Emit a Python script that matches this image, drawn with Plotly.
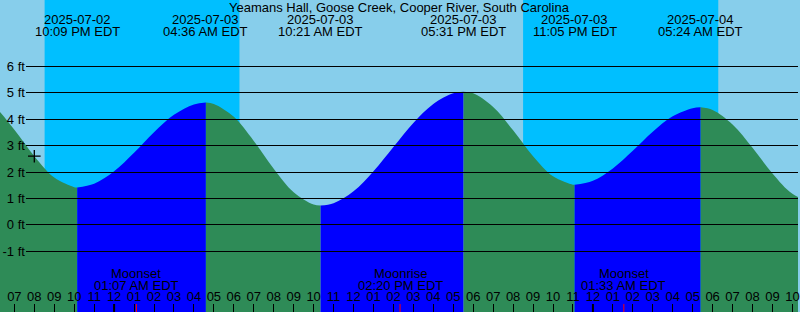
import plotly.graph_objects as go
import pandas as pd

title_text = "Yeamans Hall, Goose Creek, Cooper River, South Carolina"

# Tide level (ft), hourly
hour_times = [
    "2025-07-02 17:00", "2025-07-02 18:00", "2025-07-02 19:00", "2025-07-02 20:00",
    "2025-07-02 21:00", "2025-07-02 22:00", "2025-07-02 23:00",
    "2025-07-03 00:00", "2025-07-03 01:00", "2025-07-03 02:00", "2025-07-03 03:00",
    "2025-07-03 04:00", "2025-07-03 05:00", "2025-07-03 06:00", "2025-07-03 07:00",
    "2025-07-03 08:00", "2025-07-03 09:00", "2025-07-03 10:00", "2025-07-03 11:00",
    "2025-07-03 12:00", "2025-07-03 13:00", "2025-07-03 14:00", "2025-07-03 15:00",
    "2025-07-03 16:00", "2025-07-03 17:00", "2025-07-03 18:00", "2025-07-03 19:00",
    "2025-07-03 20:00", "2025-07-03 21:00", "2025-07-03 22:00", "2025-07-03 23:00",
    "2025-07-04 00:00", "2025-07-04 01:00", "2025-07-04 02:00", "2025-07-04 03:00",
    "2025-07-04 04:00", "2025-07-04 05:00", "2025-07-04 06:00", "2025-07-04 07:00",
    "2025-07-04 08:00", "2025-07-04 09:00", "2025-07-04 10:00", "2025-07-04 11:00",
]
hour_ft = [
    4.96, 4.48, 3.60, 2.60, 1.79, 1.43, 1.56,
    2.03, 2.73, 3.51, 4.17, 4.56, 4.58, 4.09, 3.18, 2.13, 1.24, 0.77, 0.82,
    1.27, 2.03, 2.95, 3.86, 4.58, 4.98, 4.98, 4.46, 3.58, 2.60, 1.84, 1.52,
    1.67, 2.14, 2.81, 3.53, 4.11, 4.42, 4.35, 3.80, 2.92, 1.95, 1.18, 0.85,
]

# High / low tide events
tide_times = [
    "2025-07-02 16:38", "2025-07-02 22:09", "2025-07-03 04:36", "2025-07-03 10:21",
    "2025-07-03 17:31", "2025-07-03 23:05", "2025-07-04 05:24", "2025-07-04 11:09",
]
tide_ft = [5.00, 1.42, 4.63, 0.73, 5.04, 1.52, 4.45, 0.84]

# Night (sunset -> sunrise)
night_start = ["2025-07-02 20:31", "2025-07-03 20:30"]
night_end = ["2025-07-03 06:17", "2025-07-04 06:17"]

# Moon events
moon_names = ["First Quarter", "Moonset", "Moonrise", "Moonset"]
moon_times = ["2025-07-02 16:37", "2025-07-03 01:07", "2025-07-03 14:20", "2025-07-04 01:33"]

midnights = ["2025-07-03 00:00", "2025-07-04 00:00"]

now_time = ["2025-07-02 20:00"]
now_ft = [2.60]

y_ticks = [-1, 0, 1, 2, 3, 4, 5, 6]
y_ticktext = [f"{v} ft" for v in y_ticks]

FONT = "Liberation Sans, Arial, sans-serif"
Y_BOTTOM, Y_TOP = -3.297, 8.514
X_START, X_END = "2025-07-02 18:16:48", "2025-07-04 10:16:48"
SKY_DAY = "#87CEEB"
SKY_NIGHT = "#00BFFF"
RISING = "#0000FF"
FALLING = "#2E8B57"

fig = go.Figure()

ext = list(pd.to_datetime(tide_times))
pts = sorted(zip(list(pd.to_datetime(hour_times)) + ext, hour_ft + tide_ft))
ext_set = set(ext)
segs = []
cur = [pts[0]]
for p in pts[1:]:
    cur.append(p)
    if p[0] in ext_set:
        segs.append(cur)
        cur = [p]
if len(cur) > 1:
    segs.append(cur)

for seg in segs:
    xs = [p[0] for p in seg]
    ys = [p[1] for p in seg]
    color = RISING if ys[-1] > ys[0] else FALLING
    fig.add_trace(go.Scatter(x=[xs[0], xs[-1]], y=[Y_BOTTOM - 1, Y_BOTTOM - 1], mode="lines",
                             line=dict(width=0), hoverinfo="skip", showlegend=False))
    fig.add_trace(go.Scatter(x=xs, y=ys, mode="lines", line=dict(width=0, shape="spline"),
                             fill="tonexty", fillcolor=color, hoverinfo="skip", showlegend=False))

fig.add_trace(go.Scatter(x=now_time, y=now_ft, mode="markers",
                         marker=dict(symbol="cross-thin", size=9, color="black",
                                     line=dict(width=1.3, color="black")),
                         hoverinfo="skip", showlegend=False))

# axis for the ft labels and grid (drawn on top)
fig.add_trace(go.Scatter(x=[], y=[], xaxis="x2", yaxis="y2", showlegend=False))

shapes = []
for s, e in zip(night_start, night_end):
    shapes.append(dict(type="rect", xref="x", yref="paper", x0=s, x1=e, y0=0, y1=1,
                       fillcolor=SKY_NIGHT, line=dict(width=0), layer="below"))
for m in midnights:
    shapes.append(dict(type="line", xref="x", yref="paper", x0=m, x1=m, y0=0, y1=8 / 312,
                       line=dict(color="black", width=2), layer="above"))
for t in moon_times:
    shapes.append(dict(type="line", xref="x", yref="paper", x0=t, x1=t, y0=0, y1=8 / 312,
                       line=dict(color="red", width=1), layer="above"))

annotations = [dict(text=title_text, xref="paper", yref="paper", x=0.5, y=1 - 7.5 / 312,
                    xanchor="center", yanchor="middle", showarrow=False,
                    font=dict(family=FONT, size=13, color="black"))]
for t in pd.to_datetime(tide_times):
    annotations.append(dict(text=t.strftime("%Y-%m-%d"), xref="x", yref="paper", x=t,
                            y=1 - 19.5 / 312, xanchor="center", yanchor="middle", showarrow=False,
                            font=dict(family=FONT, size=13, color="black")))
    annotations.append(dict(text=t.strftime("%I:%M %p EDT"), xref="x", yref="paper", x=t,
                            y=1 - 31.7 / 312, xanchor="center", yanchor="middle", showarrow=False,
                            font=dict(family=FONT, size=13, color="black")))
for name, t in zip(moon_names, pd.to_datetime(moon_times)):
    annotations.append(dict(text=name, xref="x", yref="paper", x=t,
                            y=1 - 273.5 / 312, xanchor="center", yanchor="middle", showarrow=False,
                            font=dict(family=FONT, size=13, color="black")))
    annotations.append(dict(text=t.strftime("%I:%M %p EDT"), xref="x", yref="paper", x=t,
                            y=1 - 285 / 312, xanchor="center", yanchor="middle", showarrow=False,
                            font=dict(family=FONT, size=13, color="black")))

fig.update_layout(
    width=800, height=312, autosize=False,
    margin=dict(l=0, r=0, t=0, b=0, pad=0),
    paper_bgcolor=SKY_DAY, plot_bgcolor="rgba(0,0,0,0)",
    font=dict(family=FONT, size=13, color="black"),
    showlegend=False,
    shapes=shapes, annotations=annotations,
    xaxis=dict(type="date", range=[X_START, X_END], domain=[0, 1], showgrid=False,
               zeroline=False, showline=False, ticks="inside", ticklen=8, tickwidth=1,
               tickcolor="black", dtick=3600000, tick0="2025-07-03 00:00", tickformat="%I",
               ticklabelposition="inside", ticklabeloverflow="allow",
               tickfont=dict(family=FONT, size=13, color="black"), fixedrange=True),
    yaxis=dict(range=[Y_BOTTOM, Y_TOP], domain=[0, 1], visible=False, fixedrange=True),
    xaxis2=dict(domain=[26 / 800, 1], anchor="y2", range=[0, 1], visible=False, fixedrange=True),
    yaxis2=dict(domain=[0, 1], anchor="x2", range=[Y_BOTTOM, Y_TOP], tickvals=y_ticks,
                ticktext=y_ticktext, showgrid=True, gridcolor="black", gridwidth=1,
                zeroline=False, showline=False, ticks="",
                tickfont=dict(family=FONT, size=13, color="black"), fixedrange=True),
)

fig.write_html("out.html", config={"displayModeBar": False})
